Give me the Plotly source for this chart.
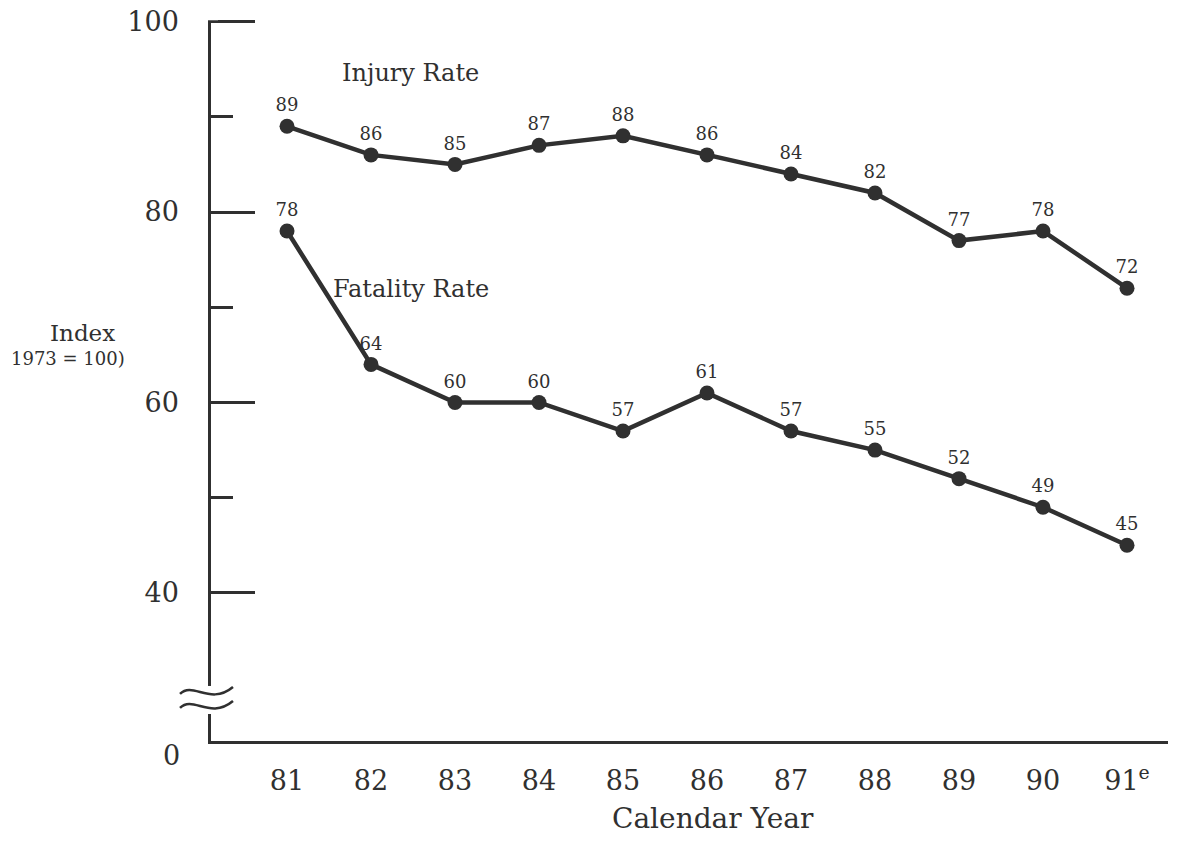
import plotly.graph_objects as go

years = [81, 82, 83, 84, 85, 86, 87, 88, 89, 90, 91]
year_labels = ["81", "82", "83", "84", "85", "86", "87", "88", "89", "90", "91<sup>e</sup>"]
injury_rate = [89, 86, 85, 87, 88, 86, 84, 82, 77, 78, 72]
fatality_rate = [78, 64, 60, 60, 57, 61, 57, 55, 52, 49, 45]
y_major_ticks = [40, 60, 80, 100]
y_major_labels = ["40", "60", "80", "100"]
y_minor_ticks = [50, 70, 90]
y_bottom_label = "0"

INK = "#303030"
FONT = "DejaVu Serif"

# page geometry (browser body has an 8px margin)
OFF = 8
FW, FH = 1186 - 2 * OFF, 845 - 2 * OFF
UNIT = 9.517  # px per index point
PL, PR, PB = 211, 1168, 741
Y0, Y1 = 24.45, 100.9
PT = PB - (Y1 - Y0) * UNIT
L, R, T, B = PL - OFF, FW - (PR - OFF), PT - OFF, FH - (PB - OFF)
pw, ph = PR - PL, PB - PT
X0, X1 = 80.095, 91.488


def px(x):
    return (x - PL) / pw


def py(y):
    return (PB - y) / ph


fig = go.Figure()
for name, vals in [("Injury Rate", injury_rate), ("Fatality Rate", fatality_rate)]:
    fig.add_trace(go.Scatter(
        x=years, y=vals, mode="lines+markers+text", name=name,
        text=[str(v) for v in vals], textposition="top center",
        textfont=dict(family=FONT, size=18, color=INK),
        line=dict(color=INK, width=4.5),
        marker=dict(color=INK, size=15),
        showlegend=False,
    ))

fig.update_layout(
    width=FW, height=FH,
    margin=dict(l=L, r=R, t=T, b=B, pad=0),
    paper_bgcolor="white", plot_bgcolor="white",
    font=dict(family=FONT, color=INK),
    xaxis=dict(
        range=[X0, X1], showgrid=False, zeroline=False, automargin=False,
        showline=True, linecolor=INK, linewidth=2.5,
        tickvals=years, ticktext=year_labels, ticks="",
        tickfont=dict(family=FONT, size=27, color=INK),
        ticklabelstandoff=14, ticklabeloverflow="allow",
    ),
    yaxis=dict(
        range=[Y0, Y1], showgrid=False, zeroline=False, automargin=False,
        showline=True, linecolor=INK, linewidth=2.5,
        tickvals=y_major_ticks, ticktext=y_major_labels,
        ticks="inside", ticklen=44, tickwidth=2.5, tickcolor=INK,
        tickfont=dict(family=FONT, size=27, color=INK),
        ticklabelstandoff=24, ticklabeloverflow="allow",
        minor=dict(tickvals=y_minor_ticks, ticks="inside", ticklen=22,
                   tickwidth=2.5, tickcolor=INK),
    ),
)

# hide the axis line above the top tick, and draw the axis break
top_px = PB - (100 - Y0) * UNIT
shapes = [
    dict(type="rect", xref="paper", yref="paper",
         x0=px(204), x1=px(218), y0=py(top_px - 1.3), y1=py(PT - 3),
         fillcolor="white", line=dict(width=0), layer="above"),
    dict(type="rect", xref="paper", yref="paper",
         x0=px(200), x1=px(222), y0=py(714), y1=py(686),
         fillcolor="white", line=dict(width=0), layer="above"),
]
for dy in (0, 14):
    path = "M {} {} C {} {} {} {} {} {}".format(
        px(180), py(694 + dy), px(193), py(681 + dy),
        px(210), py(706 + dy), px(233), py(687 + dy))
    shapes.append(dict(type="path", xref="paper", yref="paper", path=path,
                       line=dict(color=INK, width=2.5), layer="above"))
fig.update_layout(shapes=shapes)


def note(x, y, text, size):
    return dict(x=px(x), y=py(y), xref="paper", yref="paper", text=text,
                xanchor="center", yanchor="middle", showarrow=False,
                font=dict(family=FONT, size=size, color=INK))


annotations = [
    note(171, 755, y_bottom_label, 27),
    note(713, 818, "Calendar Year", 28),
    note(82, 333, "Index", 23),
    note(68, 359, "1973 = 100)", 18),
    note(410, 73, "Injury Rate", 24),
    note(411, 289, "Fatality Rate", 24),
]
fig.update_layout(annotations=annotations)

fig.write_html("out.html")
